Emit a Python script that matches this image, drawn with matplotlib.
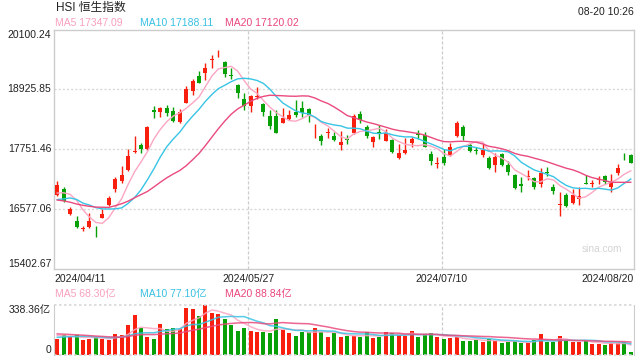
import numpy as np
import matplotlib
matplotlib.use("Agg")
import matplotlib.pyplot as plt
import matplotlib.transforms as mtransforms

plt.rcParams['font.family'] = ['Liberation Sans', 'Noto Sans CJK SC']

# 日K数据 (2024/04/11 - 2024/08/20)
open_ = [16861, 16972, 16483, 16352, 16189, 16241, 16235, 16417, 16672, 16985,
         17135, 17344, 17703, 17840, 17755, 18525, 18492, 18557, 18505, 18296,
         18668, 18903, 19190, 19255, 19510, 19614, 19458, 19203, 19014, 18733,
         18603, 18779, 18642, 18407, 18407, 18277, 18342, 18492, 18557, 18538,
         18146, 18016, 18075, 18016, 17840, 17957, 18068, 18440, 18185, 17905,
         18088, 17924, 17937, 17579, 17676, 17872, 18068, 18035, 17664, 17474,
         17611, 17644, 18016, 18185, 17840, 17735, 17644, 17579, 17448, 17657,
         17448, 17253, 17070, 17207, 17187, 17070, 17305, 17024, 16659, 16861,
         16698, 16776, 17096, 17083, 17148, 17233, 17011, 17285, 17572, 17644]
high = [17142, 17024, 16620, 16437, 16254, 16502, 16248, 16580, 16848, 17220,
        17429, 17755, 18016, 17885, 18211, 18603, 18577, 18622, 18590, 18538,
        18994, 19125, 19288, 19438, 19601, 19699, 19484, 19353, 19027, 18864,
        18818, 18981, 18668, 18525, 18525, 18557, 18525, 18720, 18701, 18557,
        18244, 18055, 18166, 18101, 18120, 18035, 18446, 18512, 18231, 18016,
        18231, 18153, 17950, 17859, 17983, 18003, 18133, 18101, 17729, 17611,
        17755, 17872, 18316, 18231, 17872, 17794, 17872, 17624, 17676, 17690,
        17527, 17266, 17220, 17350, 17207, 17396, 17415, 17070, 16926, 16894,
        16972, 17011, 17253, 17155, 17240, 17253, 17272, 17461, 17676, 17664]
low = [16848, 16730, 16463, 16202, 16150, 16202, 16045, 16404, 16646, 16926,
       17102, 17331, 17676, 17690, 17742, 18362, 18394, 18407, 18296, 18277,
       18655, 18818, 19047, 19112, 19340, 19568, 19177, 19138, 18766, 18525,
       18492, 18740, 18407, 18153, 18068, 18264, 18329, 18381, 18381, 18296,
       17983, 17840, 17970, 17918, 17742, 17853, 18055, 18277, 17970, 17794,
       17950, 17918, 17676, 17566, 17664, 17807, 17950, 17794, 17448, 17383,
       17448, 17624, 18003, 17937, 17709, 17664, 17611, 17363, 17318, 17429,
       17253, 16972, 16913, 17155, 16972, 17011, 17233, 16881, 16437, 16620,
       16685, 16665, 17076, 17011, 17076, 17076, 16926, 17253, 17546, 17481]
close = [17057, 16750, 16581, 16241, 16209, 16352, 16222, 16489, 16796, 17168,
         17253, 17624, 17716, 17768, 18185, 18485, 18564, 18472, 18316, 18492,
         18929, 19092, 19060, 19340, 19523, 19627, 19223, 19184, 18864, 18609,
         18799, 18792, 18479, 18211, 18081, 18375, 18427, 18427, 18459, 18427,
         18159, 17918, 18088, 17937, 17905, 17937, 18407, 18329, 18016, 18003,
         18068, 18068, 17709, 17676, 17742, 17957, 18035, 17807, 17533, 17487,
         17481, 17794, 18264, 18016, 17729, 17722, 17742, 17396, 17598, 17448,
         17318, 16991, 17044, 17233, 17011, 17298, 17285, 16946, 16672, 16652,
         16861, 16848, 17083, 17096, 17161, 17122, 17089, 17396, 17559, 17494]
# 成交额 (亿)
volume = [107, 130, 118, 130, 100, 109, 118, 109, 100, 141,
          134, 202, 270, 182, 120, 107, 209, 175, 182, 175,
          318, 311, 263, 338, 284, 277, 243, 202, 161, 182,
          161, 154, 154, 148, 243, 168, 148, 127, 154, 154,
          182, 154, 120, 148, 120, 127, 127, 120, 154, 114,
          120, 154, 148, 134, 127, 161, 120, 134, 148, 120,
          107, 114, 120, 93, 93, 100, 86, 107, 93, 80,
          86, 93, 80, 80, 100, 141, 86, 86, 127, 93,
          86, 86, 93, 73, 73, 66, 80, 80, 86, 18]

# 区间之前的数据, 只用于计算均线
pre_close = [17093, 17082, 16962, 16721, 16737, 16529, 16543, 16863, 16499, 16473,
             16619, 16392, 16541, 16931, 16725, 16724, 16733, 16828, 17139]
pre_volume = [170, 160, 175, 150, 165, 180, 155, 160, 170, 155,
              110, 100, 105, 95, 115, 150, 125, 140, 130]

date_labels = ['2024/04/11', '2024/05/27', '2024/07/10', '2024/08/20']
date_index = [0, 30, 60, 89]
price_ticks = [15402.67, 16577.06, 17751.46, 18925.85, 20100.24]
vol_max = 338.36

ma_price_text = ['MA5 17347.09', 'MA10 17188.11', 'MA20 17120.02']
ma_vol_text = ['MA5 68.30亿', 'MA10 77.10亿', 'MA20 88.84亿']

RED = '#f91f0e'
GREEN = '#07a007'
MA_COLORS = ['#fba6c3', '#38c4e4', '#ea4a7e']
MA_TEXT = ['#f9a0be', '#36c0e2', '#e8467c']
GRID = '#d8d8d8'
BORDER = '#cccccc'
TXT = '#222222'


def moving_avg(pre, vals, n):
    full = np.array(pre + vals, dtype=float)
    m = np.convolve(full, np.ones(n) / n, mode='valid')
    return m[-len(vals):]


n = len(close)
x = np.arange(n)
o = np.array(open_, dtype=float)
c = np.array(close, dtype=float)
colors = np.where(c >= o, RED, GREEN)

fig = plt.figure(figsize=(6.4, 3.6), dpi=100)
W, H = 640.0, 360.0
ax = fig.add_axes([54 / W, 1 - 269.3 / H, 580 / W, 239.8 / H])
axv = fig.add_axes([54 / W, 1 - 354.7 / H, 580 / W, 50 / H])

# ---- K线 ----
ax.set_xlim(-0.5, n - 0.5)
ax.set_ylim(price_ticks[0], price_ticks[-1])
for t in price_ticks[1:-1]:
    ax.axhline(t, color=GRID, lw=1, ls=(0, (1.5, 1.5)), zorder=0)
for i in date_index[1:3]:
    ax.axvline(i - 0.37, color=BORDER, lw=0.9, ls=(0, (2.5, 1.5)), zorder=0)
    axv.axvline(i - 0.37, color=BORDER, lw=0.9, ls=(0, (2.5, 1.5)), zorder=0)

ax.vlines(x, low, high, colors=colors, lw=1, zorder=2)
body_h = np.maximum(np.abs(c - o), 14)
ax.bar(x, body_h, width=0.62, bottom=np.minimum(o, c), color=colors, lw=0, zorder=3)

for k, nma in enumerate([5, 10, 20]):
    ax.plot(x, moving_avg(pre_close, close, nma), color=MA_COLORS[k], lw=1, zorder=4)

for s in ax.spines.values():
    s.set_color(BORDER)
    s.set_linewidth(1)
ax.set_xticks([])
ax.set_yticks([])

trans = mtransforms.blended_transform_factory(ax.transAxes, ax.transData)
for k, t in enumerate(price_ticks):
    va = 'top' if k == len(price_ticks) - 1 else ('bottom' if k == 0 else 'center')
    ax.text(-0.005, t, '%.2f' % t, transform=trans, ha='right', va=va,
            fontsize=7.5, color=TXT)

xtrans = mtransforms.blended_transform_factory(ax.transData, ax.transAxes)
for k, (i, lab) in enumerate(zip(date_index, date_labels)):
    if k == 0:
        xi, ha = -0.5, 'left'
    elif k == len(date_index) - 1:
        xi, ha = n - 0.5, 'right'
    else:
        xi, ha = i - 0.37, 'center'
    ax.text(xi, -0.018, lab, transform=xtrans, ha=ha, va='top', fontsize=7.5, color=TXT)

ax.text(0.9805, 0.083, 'sina.com', transform=ax.transAxes, ha='right', va='center',
        fontsize=7.3, color='#d4d4d4')

# ---- 成交额 ----
axv.set_xlim(-0.5, n - 0.5)
axv.set_ylim(0, vol_max)
axv.bar(x, volume, width=0.62, color=colors, lw=0, zorder=2)
for k, nma in enumerate([5, 10, 20]):
    axv.plot(x, moving_avg(pre_volume, volume, nma), color=MA_COLORS[k], lw=1.1,
             alpha=0.85, zorder=3)
for side in ['left', 'right']:
    axv.spines[side].set_color(BORDER)
axv.spines['top'].set_visible(False)
axv.spines['bottom'].set_visible(False)
axv.axhline(vol_max, color=GRID, lw=1.2, ls=(0, (1.5, 1.5)), clip_on=False)
axv.axhline(0, color=GRID, lw=1.2, ls=(0, (1.5, 1.5)), clip_on=False)
axv.set_xticks([])
axv.set_yticks([])
vtrans = mtransforms.blended_transform_factory(axv.transAxes, axv.transData)
axv.text(-0.005, vol_max, '%.2f亿' % vol_max, transform=vtrans, ha='right', va='top',
         fontsize=7.5, color=TXT)
axv.text(-0.005, 0, '0', transform=vtrans, ha='right', va='bottom', fontsize=7.5, color=TXT)

# ---- 标题和图例 ----
fig.text(56 / W, 1 - 7.5 / H, 'HSI 恒生指数', ha='left', va='center', fontsize=8.5, color=TXT)
fig.text(634 / W, 1 - 12 / H, '08-20 10:26', ha='right', va='center', fontsize=7.5, color=TXT)
for k, xp in enumerate([55, 140, 225]):
    fig.text(xp / W, 1 - 23 / H, ma_price_text[k], ha='left', va='center',
             fontsize=7.5, color=MA_TEXT[k])
    fig.text(xp / W, 1 - 294.3 / H, ma_vol_text[k], ha='left', va='center',
             fontsize=7.5, color=MA_TEXT[k])

fig.savefig('out.png', dpi=100)
